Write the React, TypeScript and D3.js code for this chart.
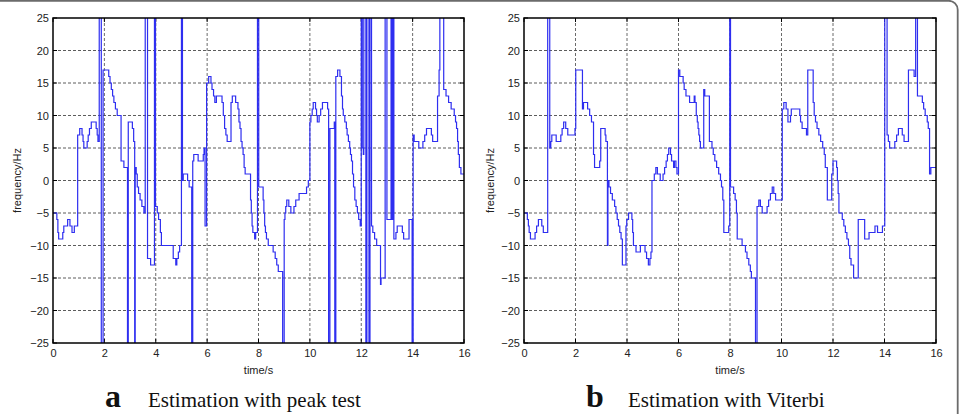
import React, { useEffect, useRef } from "react";
import * as d3 from "d3";

// tick values shared by both panels
const xTicks = [0, 2, 4, 6, 8, 10, 12, 14, 16];
const yTicks = [-25, -20, -15, -10, -5, 0, 5, 10, 15, 20, 25];

// [time (s), frequency (Hz)] step changes; +-30 = spike that leaves the axes
const peakTestSteps: [number, number][] = [
  [0, -5], [0.15, -6], [0.19, -8], [0.22, -9], [0.38, -8], [0.42, -7], [0.57, -6], [0.66, -7],
  [0.74, -8], [0.83, -7], [0.96, 7], [1.04, 8], [1.13, 7], [1.17, 6], [1.2, 5], [1.33, 6],
  [1.37, 7], [1.42, 8], [1.49, 9], [1.68, 8], [1.72, 7], [1.75, 6], [1.8, 30], [1.88, -30],
  [1.95, 17], [2.17, 16], [2.22, 15], [2.27, 14], [2.32, 13], [2.37, 12], [2.43, 11], [2.5, 10],
  [2.65, 3], [2.76, 2], [2.9, -30], [2.93, 9], [3.09, 8], [3.14, 6], [3.18, -30], [3.2, 2],
  [3.24, 1], [3.28, -1], [3.33, -2], [3.39, -3], [3.46, -4], [3.54, -5], [3.59, 30], [3.68, -12],
  [3.8, -13], [3.95, 30], [3.99, -4], [4.06, -5], [4.11, -6], [4.18, -8], [4.22, -10], [4.68, -12],
  [4.78, -13], [4.82, -12], [4.88, -11], [4.93, -10], [5.0, 30], [5.04, 0], [5.07, 1], [5.24, 0],
  [5.3, -1], [5.4, -30], [5.44, 3], [5.48, 4], [5.65, 3], [5.85, 4], [5.88, 5], [5.92, -7],
  [5.98, 15], [6.06, 16], [6.15, 15], [6.19, 14], [6.25, 13], [6.3, 12], [6.36, 13], [6.58, 12],
  [6.63, 10], [6.68, 8], [6.73, 7], [6.78, 6], [6.93, 12], [6.98, 13], [7.11, 12], [7.2, 11],
  [7.24, 9], [7.28, 8], [7.32, 6], [7.36, 5], [7.4, 4], [7.44, 2], [7.48, 1], [7.69, -3],
  [7.72, -5], [7.75, -7], [7.78, -8], [7.85, -9], [7.89, -8], [7.96, 30], [8.01, -1], [8.18, -3],
  [8.21, -5], [8.24, -7], [8.27, -8], [8.31, -9], [8.38, -10], [8.57, -11], [8.65, -12], [8.71, -13],
  [8.77, -14], [8.94, -30], [9.0, -6], [9.03, -5], [9.06, -4], [9.1, -3], [9.18, -4], [9.26, -5],
  [9.38, -4], [9.45, -3], [9.58, -2], [9.87, -1], [9.94, 0], [10.0, 9], [10.04, 10], [10.09, 11],
  [10.13, 12], [10.22, 11], [10.26, 10], [10.29, 9], [10.36, 10], [10.42, 11], [10.49, 12], [10.69, 11],
  [10.73, -30], [10.78, 8], [10.95, 9], [10.97, -30], [11.01, 16], [11.08, 17], [11.17, 16], [11.23, 13],
  [11.27, 11], [11.3, 10], [11.36, 9], [11.42, 8], [11.45, 7], [11.5, 6], [11.55, 5], [11.58, 4],
  [11.62, 3], [11.66, 1], [11.7, -1], [11.75, -3], [11.8, -4], [11.85, -5], [11.9, -6], [11.96, -7],
  [12.0, 30], [12.04, 5], [12.08, 4], [12.1, 30], [12.18, -30], [12.22, 30], [12.3, -30], [12.34, 30],
  [12.4, -7], [12.45, -8], [12.52, -9], [12.6, -10], [12.75, -16], [12.77, -15], [12.93, 30], [13.0, -6],
  [13.16, 30], [13.2, -6], [13.24, 30], [13.27, -9], [13.35, -8], [13.4, -7], [13.6, -8], [13.65, -9],
  [13.86, -6], [13.98, -30], [14.02, 7], [14.06, 6], [14.24, 5], [14.4, 6], [14.47, 7], [14.54, 8],
  [14.73, 7], [14.78, 6], [14.97, 13], [15.03, 17], [15.06, 30], [15.21, 14], [15.3, 13], [15.4, 12],
  [15.5, 11], [15.62, 10], [15.67, 9], [15.71, 8], [15.75, 6], [15.78, 4], [15.82, 2], [15.88, 1],
  [16, 1],
];

const viterbiSteps: [number, number][] = [
  [0, -5], [0.13, -6], [0.17, -7], [0.2, -8], [0.25, -9], [0.43, -8], [0.49, -7], [0.56, -6],
  [0.69, -7], [0.75, -8], [0.92, 30], [1.0, 5], [1.04, 6], [1.08, 7], [1.25, 6], [1.43, 7],
  [1.48, 8], [1.54, 9], [1.62, 8], [1.7, 7], [1.98, 8], [2.01, 17], [2.27, 11], [2.31, 12],
  [2.47, 11], [2.55, 10], [2.62, 9], [2.7, 4], [2.74, 2], [2.94, 3], [2.98, 8], [3.15, 7],
  [3.18, 6], [3.24, -10], [3.26, 0], [3.3, -1], [3.36, -2], [3.43, -3], [3.52, -4], [3.57, -5],
  [3.62, -6], [3.67, -7], [3.72, -8], [3.77, -9], [3.82, -13], [3.96, -7], [3.99, -6], [4.06, -5],
  [4.19, -6], [4.22, -8], [4.25, -10], [4.35, -11], [4.52, -10], [4.7, -11], [4.76, -12], [4.83, -13],
  [4.89, -12], [4.93, -11], [4.97, 0], [5.06, 1], [5.12, 2], [5.18, 1], [5.29, 0], [5.4, 1],
  [5.46, 2], [5.52, 3], [5.57, 4], [5.62, 5], [5.69, 4], [5.73, 3], [5.81, 2], [5.84, 3],
  [5.9, 2], [5.94, 1], [6.0, 17], [6.05, 16], [6.18, 15], [6.22, 14], [6.29, 13], [6.43, 12],
  [6.61, 13], [6.64, 12], [6.69, 10], [6.73, 9], [6.76, 8], [6.79, 7], [6.82, 6], [6.85, 5],
  [6.98, 14], [7.02, 13], [7.2, 6], [7.3, 5], [7.35, 4], [7.41, 3], [7.48, 2], [7.56, 1],
  [7.63, 0], [7.67, -1], [7.72, -3], [7.76, -8], [7.95, -7], [7.99, 30], [8.02, -1], [8.14, -2],
  [8.2, -3], [8.25, -5], [8.28, -9], [8.47, -10], [8.6, -11], [8.66, -12], [8.73, -13], [8.79, -14],
  [8.83, -15], [8.99, -30], [9.05, -4], [9.12, -3], [9.18, -4], [9.25, -5], [9.44, -4], [9.5, -3],
  [9.57, -2], [9.64, -1], [9.7, -2], [9.77, -3], [10.03, 11], [10.09, 12], [10.18, 11], [10.25, 9],
  [10.35, 10], [10.38, 11], [10.71, 10], [10.74, 9], [10.8, 8], [10.97, 7], [11.02, 17], [11.23, 12],
  [11.27, 10], [11.32, 9], [11.38, 8], [11.45, 7], [11.52, 6], [11.6, 5], [11.66, 4], [11.7, 2],
  [11.78, -3], [11.95, 1], [12.0, 3], [12.14, 2], [12.17, 0], [12.2, -2], [12.23, -5], [12.36, -6],
  [12.42, -7], [12.48, -8], [12.54, -9], [12.6, -10], [12.65, -12], [12.7, -13], [12.8, -15], [12.98, -6],
  [13.23, -9], [13.4, -8], [13.63, -7], [13.73, -8], [13.92, -7], [14.01, 30], [14.1, 7], [14.15, 6],
  [14.2, 5], [14.4, 6], [14.47, 7], [14.54, 8], [14.69, 7], [14.76, 6], [14.93, 17], [15.15, 16],
  [15.21, 30], [15.28, 13], [15.47, 12], [15.52, 11], [15.58, 10], [15.66, 9], [15.7, 8], [15.75, 1],
  [15.8, 2], [16, 2],
];

const captionLetters = ["a", "b"];
const captionTitles = ["Estimation with peak test", "Estimation with Viterbi"];

const sans = "'Liberation Sans', Arial, Helvetica, sans-serif";
const serif = "'Liberation Serif', 'Times New Roman', serif";

const App = () => {
  const svgRef = useRef<SVGSVGElement>(null);

  useEffect(() => {
    const svg = d3.select(svgRef.current);
    svg.selectAll("*").remove();

    // outer figure frame (rounded, left side falls outside the crop)
    svg.append("rect")
      .attr("x", -10).attr("y", 0.8)
      .attr("width", 967.7).attr("height", 500)
      .attr("rx", 9)
      .attr("fill", "none")
      .attr("stroke", "#6b6b6b")
      .attr("stroke-width", 1.8);

    const panels = [
      { left: 53, right: 464, data: peakTestSteps, labelX: 21, letterX: 105, titleX: 148 },
      { left: 524, right: 936, data: viterbiSteps, labelX: 494, letterX: 586, titleX: 628 },
    ];
    const top = 18;
    const bottom = 343;

    panels.forEach((p, i) => {
      const x = d3.scaleLinear().domain([0, 16]).range([p.left, p.right]);
      const y = d3.scaleLinear().domain([-25, 25]).range([bottom, top]);
      const g = svg.append("g");

      // dashed grid
      g.selectAll(".vgrid")
        .data(xTicks.slice(1, -1))
        .enter().append("line")
        .attr("x1", (d) => x(d)).attr("x2", (d) => x(d))
        .attr("y1", top).attr("y2", bottom)
        .attr("stroke", "#5a5a5a").attr("stroke-width", 0.9)
        .attr("stroke-dasharray", "3,2");
      g.selectAll(".hgrid")
        .data(yTicks.slice(1, -1))
        .enter().append("line")
        .attr("x1", p.left).attr("x2", p.right)
        .attr("y1", (d) => y(d)).attr("y2", (d) => y(d))
        .attr("stroke", "#4a4a4a").attr("stroke-width", 0.9)
        .attr("stroke-dasharray", "3,2");

      // inward ticks on all sides
      const tl = 4;
      xTicks.forEach((t) => {
        g.append("line").attr("x1", x(t)).attr("x2", x(t)).attr("y1", bottom).attr("y2", bottom - tl).attr("stroke", "#000");
        g.append("line").attr("x1", x(t)).attr("x2", x(t)).attr("y1", top).attr("y2", top + tl).attr("stroke", "#000");
      });
      yTicks.forEach((v) => {
        g.append("line").attr("x1", p.left).attr("x2", p.left + tl).attr("y1", y(v)).attr("y2", y(v)).attr("stroke", "#000");
        g.append("line").attr("x1", p.right).attr("x2", p.right - tl).attr("y1", y(v)).attr("y2", y(v)).attr("stroke", "#000");
      });

      // frequency trace, clipped to the axes box
      const clipId = `clip-${i}`;
      svg.append("clipPath").attr("id", clipId)
        .append("rect")
        .attr("x", p.left).attr("y", top)
        .attr("width", p.right - p.left).attr("height", bottom - top);

      const line = d3.line<[number, number]>()
        .x((d) => x(d[0]))
        .y((d) => y(d[1]))
        .curve(d3.curveStepAfter);

      g.append("path")
        .datum(p.data)
        .attr("clip-path", `url(#${clipId})`)
        .attr("d", line)
        .attr("fill", "none")
        .attr("stroke", "#2e2ef0")
        .attr("stroke-width", 1.2);

      // axes box
      g.append("rect")
        .attr("x", p.left).attr("y", top)
        .attr("width", p.right - p.left).attr("height", bottom - top)
        .attr("fill", "none")
        .attr("stroke", "#000")
        .attr("stroke-width", 1.5);

      // tick labels
      const xAxis = g.append("g")
        .attr("transform", `translate(0,${bottom})`)
        .call(d3.axisBottom(x).tickValues(xTicks).tickSize(0).tickPadding(6));
      const yAxis = g.append("g")
        .attr("transform", `translate(${p.left},0)`)
        .call(d3.axisLeft(y).tickValues(yTicks).tickSize(0).tickPadding(4));
      [xAxis, yAxis].forEach((a) => {
        a.select(".domain").remove();
        a.selectAll("text")
          .attr("font-family", sans)
          .attr("font-size", 11)
          .attr("fill", "#222");
      });

      // axis titles
      g.append("text")
        .attr("x", (p.left + p.right) / 2).attr("y", 374)
        .attr("text-anchor", "middle")
        .attr("font-family", sans).attr("font-size", 11).attr("fill", "#222")
        .text("time/s");
      g.append("text")
        .attr("transform", `translate(${p.labelX},${(top + bottom) / 2}) rotate(-90)`)
        .attr("text-anchor", "middle")
        .attr("font-family", sans).attr("font-size", 11).attr("fill", "#222")
        .text("frequency/Hz");

      // caption
      g.append("text")
        .attr("x", p.letterX).attr("y", 407)
        .attr("font-family", serif).attr("font-size", 32).attr("font-weight", "bold")
        .attr("fill", "#111")
        .text(captionLetters[i]);
      g.append("text")
        .attr("x", p.titleX).attr("y", 407)
        .attr("font-family", serif).attr("font-size", 21)
        .attr("fill", "#111")
        .text(captionTitles[i]);
    });
  }, []);

  return (
    <div>
      <svg
        ref={svgRef}
        width={961}
        height={414}
        style={{ position: "absolute", left: 0, top: 0, background: "#fff" }}
      ></svg>
    </div>
  );
};

export default App;
